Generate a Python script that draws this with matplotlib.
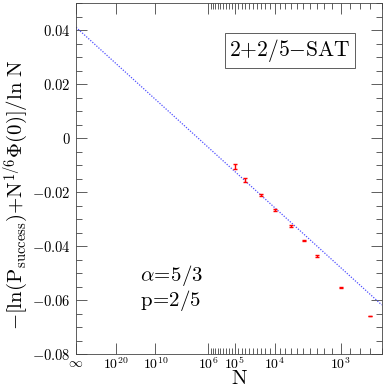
import numpy as np
import matplotlib
matplotlib.use("Agg")
import matplotlib.pyplot as plt
from matplotlib.ticker import FixedLocator, FixedFormatter, MultipleLocator

plt.rcParams['mathtext.fontset'] = 'cm'
plt.rcParams['font.family'] = ['DejaVu Serif']

# data
N = np.array([1e5, 5e4, 2e4, 1e4, 5e3, 3e3, 2e3, 1e3, 5e2])
yvals = np.array([-0.0106, -0.0156, -0.0210, -0.0267, -0.0326, -0.0381, -0.0437, -0.0553, -0.0660])
yerr = np.array([0.0008, 0.0008, 0.0004, 0.0003, 0.0003, 0.0002, 0.0002, 0.0001, 0.0001])

fit_intercept = 0.0410
fit_slope = -0.615   # per unit of 1/ln N

major_N_exp = [20, 10, 6, 5, 4, 3]
major_labels = [r'$\infty$', r'$10^{20}$', r'$10^{10}$', r'$10^{6}$', r'$10^{5}$', r'$10^{4}$', r'$10^{3}$']
ytick_vals = [-0.08, -0.06, -0.04, -0.02, 0.0, 0.02, 0.04]
ytick_labels = [r'$-0.08$', r'$-0.06$', r'$-0.04$', r'$-0.02$', r'$0$', r'$0.02$', r'$0.04$']

def xf(logN10):
    # x coordinate = 1/ln N
    return 1.0 / (np.asarray(logN10, dtype=float) * np.log(10))

fig = plt.figure(figsize=(3.9, 3.9), dpi=100)
ax = fig.add_axes([0.195, 0.0923, 0.784, 0.9])

xs = 1.0 / np.log(N)
xmax = 0.1672
xl = np.linspace(0, xmax, 200)
ax.plot(xl, fit_intercept + fit_slope * xl, color='#5050ff', lw=0.9, linestyle=(0, (1, 1.2)))
ax.errorbar(xs, yvals, yerr=yerr, fmt='none', ecolor='red', elinewidth=1.0, capsize=1.5, capthick=1.0)

ax.set_xlim(0, xmax)
ax.set_ylim(-0.08, 0.05)

majors = [0.0] + list(xf(major_N_exp))
ax.xaxis.set_major_locator(FixedLocator(majors))
ax.xaxis.set_major_formatter(FixedFormatter(major_labels))
minor_logs = []
for lo in [5, 4, 3, 2]:
    for k in range(1, 10):
        v = lo + k / 10
        if v != 6:
            minor_logs.append(v)
minor_x = [x for x in xf(minor_logs) if x <= xmax]
ax.xaxis.set_minor_locator(FixedLocator(minor_x))

ax.yaxis.set_major_locator(FixedLocator(ytick_vals))
ax.yaxis.set_major_formatter(FixedFormatter(ytick_labels))
ax.yaxis.set_minor_locator(MultipleLocator(0.005))

ax.tick_params(which='both', direction='in', top=True, right=True, width=0.6, colors='#444444', labelcolor='black')
ax.tick_params(which='major', length=8, labelsize=10.5)
ax.tick_params(which='minor', length=4)
ax.tick_params(axis='x', which='major', pad=1.5, labelsize=10)
ax.tick_params(axis='y', which='major', pad=4)
for s in ax.spines.values():
    s.set_linewidth(0.6)
    s.set_color('#444444')

ax.set_xlabel(r'$\mathrm{N}$', fontsize=15)
ax.xaxis.set_label_coords(0.535, -0.042)
ax.set_ylabel(r'$-[\mathrm{ln}(\mathrm{P}_{\mathrm{success}}){+}\mathrm{N}^{1/6}\Phi(0)]/\mathrm{ln\ N}$',
              fontsize=15)
ax.yaxis.set_label_coords(-0.15, 0.455)

ax.text(0.7, 0.865, r'$\mathrm{2{+}2/5{-}SAT}$', transform=ax.transAxes, fontsize=15.5, ha='center', va='center',
        bbox=dict(boxstyle='square,pad=0.2', fc='white', ec='#444444', lw=0.6))
ax.text(0.21, 0.225, r'$\alpha\!=\!5/3$', transform=ax.transAxes, fontsize=15, ha='left', va='center')
ax.text(0.21, 0.152, r'$\mathrm{p\!=\!2/5}$', transform=ax.transAxes, fontsize=15, ha='left', va='center')

fig.savefig('out.png', dpi=100)
